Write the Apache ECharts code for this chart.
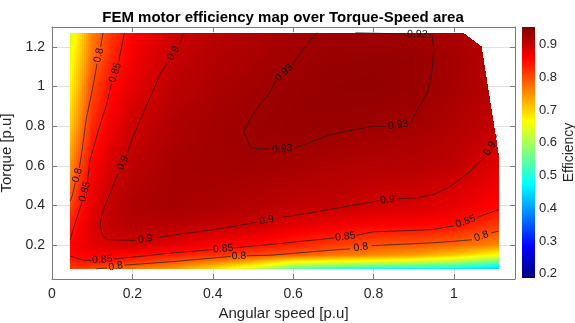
<!DOCTYPE html>
<html>
<head>
<meta charset="utf-8">
<script src="https://cdn.jsdelivr.net/npm/echarts@6/dist/echarts.min.js"></script>
<style>
  html, body { margin: 0; padding: 0; background: #fff; }
  #chart { width: 575px; height: 323px; }
</style>
</head>
<body>
<div id="chart"></div>
<script>
// efficiency map nodes: columns = speed, rows = torque
const speeds = [0.045, 0.07, 0.1, 0.15, 0.2, 0.3, 0.4, 0.5, 0.6, 0.7, 0.8, 0.9, 1.0, 1.115];
const torques = [0.08, 0.1, 0.12, 0.15, 0.2, 0.3, 0.4, 0.6, 0.8, 1.0, 1.15, 1.27];

const effT008 = [0.815, 0.812, 0.803, 0.785, 0.770, 0.740, 0.690, 0.630, 0.540, 0.505, 0.480, 0.470, 0.460, 0.430];
const effT010 = [0.825, 0.830, 0.825, 0.810, 0.797, 0.770, 0.730, 0.680, 0.620, 0.600, 0.580, 0.565, 0.545, 0.500];
const effT012 = [0.835, 0.845, 0.850, 0.840, 0.828, 0.800, 0.770, 0.735, 0.680, 0.668, 0.660, 0.645, 0.620, 0.570];
const effT015 = [0.851, 0.857, 0.862, 0.858, 0.853, 0.840, 0.822, 0.805, 0.790, 0.770, 0.755, 0.740, 0.710, 0.660];
const effT020 = [0.855, 0.868, 0.878, 0.888, 0.893, 0.880, 0.862, 0.852, 0.835, 0.815, 0.797, 0.792, 0.780, 0.755];
const effT030 = [0.835, 0.860, 0.885, 0.905, 0.912, 0.910, 0.903, 0.897, 0.880, 0.870, 0.859, 0.857, 0.850, 0.814];
const effT040 = [0.803, 0.845, 0.875, 0.905, 0.918, 0.924, 0.920, 0.913, 0.905, 0.903, 0.893, 0.889, 0.876, 0.855];
const effT060 = [0.745, 0.805, 0.858, 0.890, 0.908, 0.924, 0.927, 0.927, 0.924, 0.917, 0.914, 0.912, 0.905, 0.880];
const effT080 = [0.700, 0.760, 0.828, 0.870, 0.895, 0.917, 0.926, 0.932, 0.936, 0.935, 0.930, 0.926, 0.916, 0.902];
const effT100 = [0.670, 0.725, 0.802, 0.853, 0.876, 0.908, 0.920, 0.927, 0.934, 0.938, 0.939, 0.935, 0.924, 0.910];
const effT115 = [0.655, 0.705, 0.775, 0.830, 0.865, 0.901, 0.915, 0.922, 0.929, 0.935, 0.937, 0.935, 0.925, 0.910];
const effT127 = [0.635, 0.690, 0.760, 0.820, 0.858, 0.893, 0.910, 0.918, 0.925, 0.931, 0.929, 0.928, 0.922, 0.905];
const effRows = [effT008, effT010, effT012, effT015, effT020, effT030, effT040, effT060, effT080, effT100, effT115, effT127];

// max torque edge on the right of the map (speed, torque)
const edgeSpeed = [1.024, 1.069, 1.112, 1.112];
const edgeTorque = [1.271, 1.203, 0.65, 0.08];

// colour limits of the colorbar
const cLim = [0.187, 0.954];

// contour lines, each one a list of pieces; a label sits in every gap between two pieces
const c80Left = [
  [[0.127, 1.27], [0.121, 1.2]],
  [[0.112, 1.115], [0.102, 1.0], [0.085, 0.834], [0.074, 0.666], [0.068, 0.59]],
  [[0.058, 0.515], [0.05, 0.447], [0.045, 0.422]]
];
const c80Bottom = [
  [[0.11, 0.081], [0.137, 0.086]],
  [[0.18, 0.1], [0.303, 0.118], [0.445, 0.144]],
  [[0.485, 0.147], [0.544, 0.15], [0.71, 0.178], [0.742, 0.182]],
  [[0.795, 0.198], [0.942, 0.212], [1.0, 0.22], [1.045, 0.228]],
  [[1.092, 0.262], [1.112, 0.272]]
];
const c85Left = [
  [[0.18, 1.27], [0.166, 1.125]],
  [[0.148, 1.015], [0.137, 0.918], [0.116, 0.783], [0.095, 0.632], [0.088, 0.52]],
  [[0.075, 0.42], [0.066, 0.363], [0.05, 0.263], [0.045, 0.229]]
];
const c85Bottom = [
  [[0.045, 0.145], [0.079, 0.125], [0.097, 0.123]],
  [[0.153, 0.131], [0.2, 0.14], [0.303, 0.162], [0.4, 0.178]],
  [[0.452, 0.187], [0.544, 0.204], [0.703, 0.237]],
  [[0.757, 0.25], [0.8, 0.268], [0.942, 0.278], [1.0, 0.298]],
  [[1.058, 0.341], [1.112, 0.38]]
];
const c90 = [
  [[0.328, 1.27], [0.317, 1.215]],
  [[0.287, 1.12], [0.27, 1.065], [0.245, 0.95], [0.22, 0.834], [0.2, 0.74], [0.188, 0.665]],
  [[0.165, 0.565], [0.145, 0.464], [0.133, 0.405], [0.124, 0.355], [0.12, 0.303], [0.124, 0.254], [0.137, 0.229], [0.207, 0.224]],
  [[0.258, 0.238], [0.27, 0.242], [0.419, 0.284], [0.508, 0.315]],
  [[0.56, 0.337], [0.668, 0.372], [0.81, 0.424]],
  [[0.859, 0.434], [0.909, 0.439], [0.95, 0.456], [0.99, 0.495], [1.033, 0.56], [1.058, 0.608], [1.075, 0.64]],
  [[1.103, 0.735], [1.108, 0.758]]
];
const c93 = [
  [[0.66, 1.271], [0.63, 1.2], [0.598, 1.11]],
  [[0.557, 1.03], [0.544, 0.976], [0.502, 0.867], [0.477, 0.775], [0.494, 0.691], [0.543, 0.683]],
  [[0.603, 0.69], [0.693, 0.758], [0.797, 0.8], [0.83, 0.798]],
  [[0.893, 0.815], [0.9, 0.85], [0.934, 0.968], [0.946, 1.086], [0.95, 1.186], [0.946, 1.255], [0.94, 1.262]],
  [[0.878, 1.265], [0.755, 1.271]]
];
const contours = [
  { level: '0.8', pieces: c80Left }, { level: '0.8', pieces: c80Bottom },
  { level: '0.85', pieces: c85Left }, { level: '0.85', pieces: c85Bottom },
  { level: '0.9', pieces: c90 }, { level: '0.93', pieces: c93 }
];

const FONT = '"Liberation Sans", Arial, Helvetica, sans-serif';
const jetColors = ['#00007f', '#0000ff', '#007fff', '#00ffff', '#7fff7f', '#ffff00', '#ff7f00', '#ff0000', '#7f0000'];
const jetRgb = jetColors.map(c => [1, 3, 5].map(k => parseInt(c.substr(k, 2), 16)));

function jet(v) {
  let t = (v - cLim[0]) / (cLim[1] - cLim[0]);
  t = Math.max(0, Math.min(1, t)) * 8;
  const k = Math.min(7, Math.floor(t));
  const f = t - k;
  const a = jetRgb[k], b = jetRgb[k + 1];
  return 'rgb(' + a.map((c, n) => Math.round(c + (b[n] - c) * f)).join(',') + ')';
}

function maxSpeedAt(tq) {
  for (let k = 0; k < edgeTorque.length - 1; k++) {
    if (tq <= edgeTorque[k] && tq >= edgeTorque[k + 1]) {
      const f = (edgeTorque[k] - tq) / (edgeTorque[k] - edgeTorque[k + 1]);
      return edgeSpeed[k] + f * (edgeSpeed[k + 1] - edgeSpeed[k]);
    }
  }
  return edgeSpeed[edgeSpeed.length - 1];
}

// one item per node; each node paints the cell above-right of it (shaded between its corners)
const nodes = [];
torques.forEach((tq, j) => speeds.forEach((sp, i) => nodes.push([sp, tq, effRows[j][i], i, j])));

function renderCell(params, api) {
  const i = api.value(3), j = api.value(4);
  if (i >= speeds.length - 1 || j >= torques.length - 1) return null;
  const y0 = torques[j], y1 = torques[j + 1];
  const v00 = effRows[j][i], v10 = effRows[j][i + 1];
  const v01 = effRows[j + 1][i], v11 = effRows[j + 1][i + 1];
  const p0 = api.coord([speeds[i], y0]);
  const p1 = api.coord([speeds[i + 1], y1]);
  // whole-pixel bounds so neighbouring pieces butt together without seams
  const xa = Math.round(p0[0]), xb = Math.round(p1[0]);
  const yb = Math.round(p0[1]), ya = Math.round(p1[1]);
  const children = [];
  for (let py = ya; py < yb; py++) {
    const v = (yb - py - 0.5) / (yb - ya);
    const tq = y0 + v * (y1 - y0);
    const xEdge = Math.round(api.coord([maxSpeedAt(tq), tq])[0]);
    const xEnd = Math.min(xb, xEdge);
    for (let px = xa; px < xEnd; px += 2) {
      const u = (px + 1 - xa) / (xb - xa);
      const val = (1 - u) * (1 - v) * v00 + u * (1 - v) * v10 + (1 - u) * v * v01 + u * v * v11;
      children.push({ type: 'rect', shape: { x: px, y: py, width: Math.min(2, xEnd - px), height: 1 }, style: { fill: jet(val) } });
    }
  }
  return { type: 'group', children: children, silent: true };
}

// label items: gap between consecutive pieces of a contour
const labelItems = [];
contours.forEach(c => {
  for (let k = 0; k < c.pieces.length - 1; k++) {
    const a = c.pieces[k][c.pieces[k].length - 1];
    const b = c.pieces[k + 1][0];
    labelItems.push([(a[0] + b[0]) / 2, (a[1] + b[1]) / 2, c.level, a[0], a[1], b[0], b[1]]);
  }
});

function renderLabel(params, api) {
  const pa = api.coord([api.value(3), api.value(4)]);
  const pb = api.coord([api.value(5), api.value(6)]);
  let ang = Math.atan2(-(pb[1] - pa[1]), pb[0] - pa[0]);
  if (ang > Math.PI / 2) ang -= Math.PI;
  if (ang < -Math.PI / 2) ang += Math.PI;
  return {
    type: 'text',
    x: (pa[0] + pb[0]) / 2, y: (pa[1] + pb[1]) / 2,
    rotation: ang,
    silent: true,
    style: { text: labelItems[params.dataIndex][2], font: '10.5px ' + FONT, fill: '#111', align: 'center', verticalAlign: 'middle' }
  };
}

function renderColorbar(params, api) {
  const p0 = api.coord([0, cLim[0]]);
  const p1 = api.coord([1, cLim[1]]);
  const stops = jetColors.map((c, k) => ({ offset: k / 8, color: c }));
  return {
    type: 'rect', silent: true,
    shape: { x: p0[0], y: p1[1], width: p1[0] - p0[0], height: p0[1] - p1[1] },
    style: { fill: new echarts.graphic.LinearGradient(0, 1, 0, 0, stops) }
  };
}

const axisColor = '#7a7a7a';
const textColor = '#262626';
const edgeAxis = {
  type: 'value', gridIndex: 0,
  axisLine: { show: true, onZero: false, lineStyle: { color: axisColor, width: 1 } },
  axisTick: { show: true, inside: true, length: 5, lineStyle: { color: axisColor } },
  splitLine: { show: false }
};

const series = [{
  type: 'custom', xAxisIndex: 0, yAxisIndex: 0,
  renderItem: renderCell, data: nodes, encode: { x: 0, y: 1 }, z: 2, silent: true
}];
contours.forEach(c => c.pieces.forEach(piece => {
  series.push({
    type: 'line', xAxisIndex: 0, yAxisIndex: 0, data: piece,
    showSymbol: false, symbol: 'none', silent: true, z: 3,
    lineStyle: { color: '#1a1a1a', width: 0.7 }
  });
}));
series.push({
  type: 'custom', xAxisIndex: 0, yAxisIndex: 0, renderItem: renderLabel,
  data: labelItems, encode: { x: 0, y: 1 }, z: 4, silent: true
});
series.push({
  type: 'custom', xAxisIndex: 2, yAxisIndex: 2, renderItem: renderColorbar,
  data: [[0, cLim[0]]], z: 2, silent: true
});

const chart = echarts.init(document.getElementById('chart'));
chart.setOption({
  animation: false,
  backgroundColor: '#fff',
  graphic: [{
    type: 'text', x: 283, y: 10,
    style: { text: 'FEM motor efficiency map over Torque-Speed area', font: 'bold 15px ' + FONT, fill: '#000', align: 'center', verticalAlign: 'top' }
  }],
  grid: [
    { left: 52, right: 60, top: 27, bottom: 44, containLabel: false, outerBoundsMode: 'none' },
    { left: 522, top: 27, width: 13, height: 251, containLabel: false, outerBoundsMode: 'none' }
  ],
  xAxis: [
    Object.assign({}, edgeAxis, {
      position: 'bottom', min: 0, max: 1.152, splitNumber: 6, minInterval: 0.2, maxInterval: 0.2,
      name: 'Angular speed [p.u]', nameLocation: 'middle', nameGap: 26,
      nameTextStyle: { fontFamily: FONT, fontSize: 15, color: textColor },
      axisLabel: { fontFamily: FONT, fontSize: 14, color: textColor, margin: 8, showMaxLabel: false },
      splitLine: { show: true, lineStyle: { color: '#e0e0e0', width: 1 } }
    }),
    Object.assign({}, edgeAxis, {
      position: 'top', min: 0, max: 1.152, splitNumber: 6, minInterval: 0.2, maxInterval: 0.2,
      axisLabel: { show: false }
    }),
    { type: 'value', gridIndex: 1, min: 0, max: 1, show: false }
  ],
  yAxis: [
    Object.assign({}, edgeAxis, {
      position: 'left', min: 0.03, max: 1.3, splitNumber: 6, minInterval: 0.2, maxInterval: 0.2,
      name: 'Torque [p.u]', nameLocation: 'middle', nameGap: 27, nameRotate: 90,
      nameTextStyle: { fontFamily: FONT, fontSize: 15, color: textColor },
      axisLabel: { fontFamily: FONT, fontSize: 14, color: textColor, margin: 7, showMinLabel: false, showMaxLabel: false },
      splitLine: { show: true, lineStyle: { color: '#e0e0e0', width: 1 } }
    }),
    Object.assign({}, edgeAxis, {
      position: 'right', min: 0.03, max: 1.3, splitNumber: 6, minInterval: 0.2, maxInterval: 0.2,
      axisLabel: { show: false }
    }),
    {
      type: 'value', gridIndex: 1, position: 'right', min: cLim[0], max: cLim[1],
      splitNumber: 8, minInterval: 0.1, maxInterval: 0.1,
      name: 'Efficiency', nameLocation: 'middle', nameGap: 27, nameRotate: 90,
      nameTextStyle: { fontFamily: FONT, fontSize: 14, color: textColor },
      axisLine: { show: false }, axisTick: { show: false }, splitLine: { show: false },
      axisLabel: { fontFamily: FONT, fontSize: 13, color: textColor, margin: 4, showMinLabel: false, showMaxLabel: false }
    }
  ],
  series: series
});
</script>
</body>
</html>
